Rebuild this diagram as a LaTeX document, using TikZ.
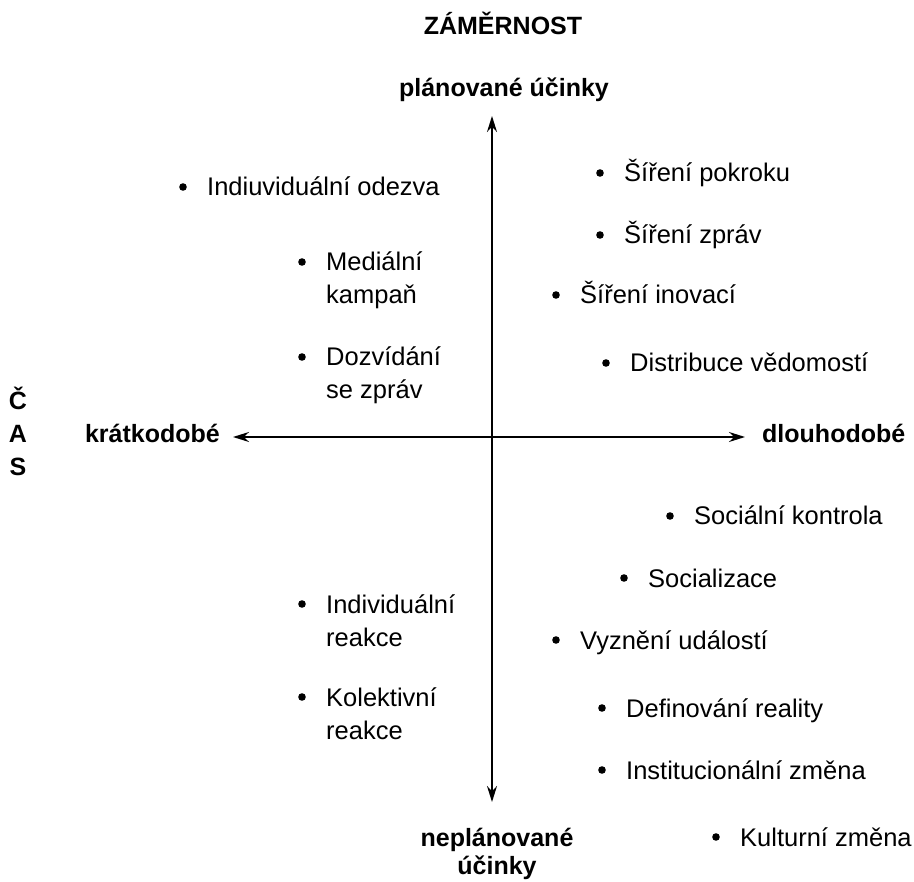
\documentclass[tikz,border=0pt]{standalone}
\usepackage{fontspec}
\setmainfont{Liberation Sans}
\usetikzlibrary{arrows.meta}
% one-line item: name, text x, baseline y, text
\newcommand\itm[4]{%
  \fill (#2-24,#3-9) circle (3.8pt);
  \node[txt] (#1) at (#2,#3) {#4};}
% two-line item: name, text x, first baseline y, text (base anchor = last line)
\newcommand\itmm[4]{%
  \fill (#2-24,#3-9) circle (3.8pt);
  \node[txt] (#1) at (#2,#3+33) {#4};}
\begin{document}
\begin{tikzpicture}[x=1pt,y=-1pt,
  txt/.style={font=\fontsize{25.5}{33}\selectfont, inner sep=0pt, anchor=base west, align=left},
  hd/.style={font=\fontsize{25}{30}\selectfont\bfseries, inner sep=0pt, anchor=base, align=center},
  axis/.style={line width=1.8pt, {Stealth[length=16pt,width=10pt]}-{Stealth[length=16pt,width=10pt]}}]
\useasboundingbox[fill=white] (0,0) rectangle (914,882);
% headings
\node[hd] (zam) at (503,35) {ZÁMĚRNOST};
\node[hd] (plan) at (504,97) {plánované účinky};
\node[hd, font=\fontsize{25}{33}\selectfont\bfseries] (cas) at (18,476) {Č\\A\\S};
\node[hd, anchor=base east] (krat) at (220,443) {krátkodobé};
\node[hd, anchor=base west] (dlouh) at (762,443) {dlouhodobé};
\node[hd, font=\fontsize{25}{28}\selectfont\bfseries] (neplan) at (497,874) {neplánované\\účinky};
% axes
\coordinate (vtop) at (492,116);
\coordinate (vbot) at (492,802);
\coordinate (hl) at (233,437);
\coordinate (hr) at (745,437);
\draw[axis] (vtop) -- (vbot);
\draw[axis] (hl) -- (hr);
% upper left
\itm{a1}{207}{196}{Indiuviduální odezva}
\itmm{a2}{326}{271}{Mediální\\kampaň}
\itmm{a3}{326}{366}{Dozvídání\\se zpráv}
% upper right
\itm{b1}{624}{182}{Šíření pokroku}
\itm{b2}{624}{244}{Šíření zpráv}
\itm{b3}{580}{304}{Šíření inovací}
\itm{b4}{630}{372}{Distribuce vědomostí}
% lower left
\itmm{c1}{326}{613}{Individuální\\reakce}
\itmm{c2}{326}{706}{Kolektivní\\reakce}
% lower right
\itm{d1}{694}{525}{Sociální kontrola}
\itm{d2}{648}{587}{Socializace}
\itm{d3}{580}{649}{Vyznění událostí}
\itm{d4}{626}{717}{Definování reality}
\itm{d5}{626}{779}{Institucionální změna}
\itm{d6}{740}{846}{Kulturní změna}
\end{tikzpicture}
\end{document}
